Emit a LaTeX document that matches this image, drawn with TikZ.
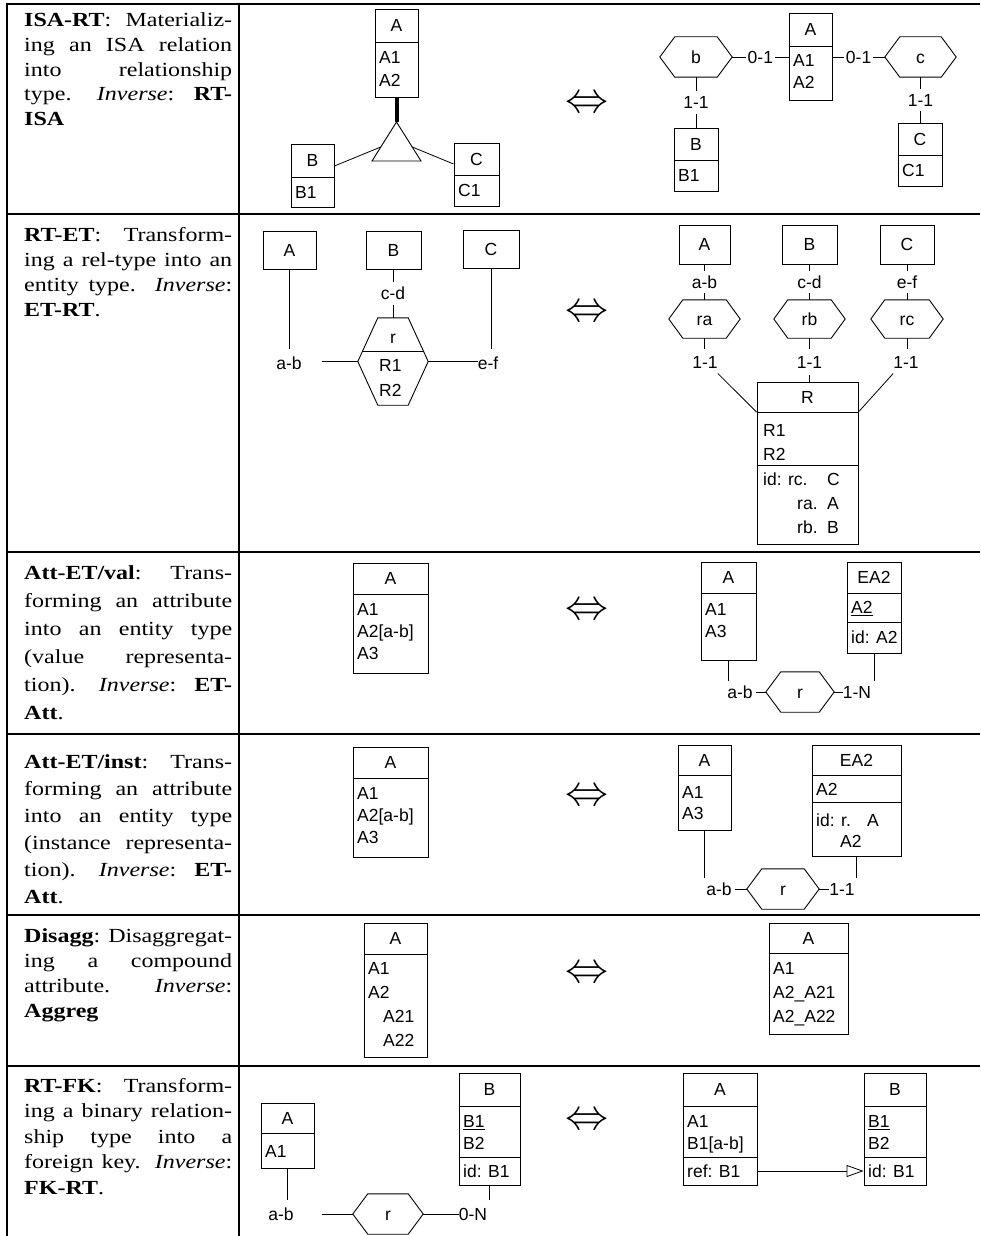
\documentclass[tikz,border=0pt]{standalone}
\usepackage{fontspec}
\usepackage{graphicx}
\setmainfont{Liberation Serif}[FakeStretch=1.2]
\newfontfamily\dbsans{Liberation Sans}
\usetikzlibrary{arrows.meta,fit,calc}
\newcommand\dbf{\dbsans\fontsize{17.5}{21}\selectfont}
\newlength\descw \setlength\descw{208pt}
\newcommand\jl[1]{\hbox to\descw{#1}}
\newcommand\lastl[1]{\hbox to\descw{#1\hfil}}
\newcommand\ebox[5]{\node[ent, fit={(#2,#3) (#4,#5)}] (#1) {};}
\newcommand\hdiv[2]{\draw[eline] (#1.west |- 0,#2) -- (#1.east |- 0,#2);}
\newcommand\hexn[7]{%
 \node[font=\dbf, inner sep=0pt, minimum width=#4pt, minimum height=#5pt, text height=12.6pt, text depth=0pt] (#1) at (#2,#3) {#7};
 \draw[eline] (#1.west) -- ([xshift=#6pt]#1.north west) -- ([xshift=-#6pt]#1.north east) -- (#1.east) -- ([xshift=-#6pt]#1.south east) -- ([xshift=#6pt]#1.south west) -- cycle;}
\tikzset{
 tbl/.style={line width=2.6pt},
 eline/.style={line width=0.9pt},
 ent/.style={draw, line width=0.9pt, inner sep=0pt},
 con/.style={line width=0.8pt},
 nm/.style={font=\dbf, anchor=base, inner sep=0pt, yshift=-6.3pt},
 attr/.style={font=\dbf, anchor=base west, inner sep=0pt, yshift=-6.3pt},
 lbl/.style={font=\dbf, fill=white, inner xsep=1.5pt, inner ysep=5pt, text height=12.6pt, text depth=0pt},
 lblp/.style={font=\dbf, inner sep=0pt, text height=12.6pt, text depth=0pt},
 eqv/.style={inner sep=0pt},
 desc/.style={anchor=base west, inner sep=0pt, font=\fontsize{20}{#1}\selectfont},
}
\begin{document}
\begin{tikzpicture}[x=1pt,y=-1pt]
\useasboundingbox (0,0) rectangle (980,1236);
% table
\draw[tbl] (5.7,4) -- (980,4);
\draw[tbl] (5.7,214) -- (980,214);
\draw[tbl] (5.7,552) -- (980,552);
\draw[tbl] (5.7,734) -- (980,734);
\draw[tbl] (5.7,915) -- (980,915);
\draw[tbl] (5.7,1066) -- (980,1066);
\draw[tbl] (7,2.7) -- (7,1236);
\draw[tbl] (239,2.7) -- (239,1236);
% descriptions
\node[desc=24.6pt] (d1) at (24,27) {\vtop{\jl{\textbf{ISA-RT}: Materializ-}\jl{ing an ISA relation}\jl{into relationship}\jl{type. \textit{Inverse}: \textbf{RT-}}\lastl{\textbf{ISA}}}};
\node[desc=25pt] (d2) at (24,241) {\vtop{\jl{\textbf{RT-ET}: Transform-}\jl{ing a rel-type into an}\jl{entity type. \textit{Inverse}:}\lastl{\textbf{ET-RT}.}}};
\node[desc=28pt] (d3) at (24,579) {\vtop{\jl{\textbf{Att-ET/val}: Trans-}\jl{forming an attribute}\jl{into an entity type}\jl{(value representa-}\jl{tion). \textit{Inverse}: \textbf{ET-}}\lastl{\textbf{Att}.}}};
\node[desc=27pt] (d4) at (24,768) {\vtop{\jl{\textbf{Att-ET/inst}: Trans-}\jl{forming an attribute}\jl{into an entity type}\jl{(instance representa-}\jl{tion). \textit{Inverse}: \textbf{ET-}}\lastl{\textbf{Att}.}}};
\node[desc=25pt] (d5) at (24,942) {\vtop{\jl{\textbf{Disagg}: Disaggregat-}\jl{ing a compound}\jl{attribute. \textit{Inverse}:}\lastl{\textbf{Aggreg}}}};
\node[desc=25.5pt] (d6) at (24,1092) {\vtop{\jl{\textbf{RT-FK}: Transform-}\jl{ing a binary relation-}\jl{ship type into a}\jl{foreign key. \textit{Inverse}:}\lastl{\textbf{FK-RT}.}}};
% equivalence arrows
\node[eqv] (e1) at (587,105) {\scalebox{4.3}{$\Leftrightarrow$}};
\node[eqv] (e2) at (587,314) {\scalebox{4.3}{$\Leftrightarrow$}};
\node[eqv] (e3) at (587,612) {\scalebox{4.3}{$\Leftrightarrow$}};
\node[eqv] (e4) at (587,798) {\scalebox{4.3}{$\Leftrightarrow$}};
\node[eqv] (e5) at (587,975) {\scalebox{4.3}{$\Leftrightarrow$}};
\node[eqv] (e6) at (587,1122) {\scalebox{4.3}{$\Leftrightarrow$}};
% ===== Row 1 left
\ebox{A1L}{375}{9}{418}{97} \hdiv{A1L}{42}
\node[nm] at (396.5,25.5) {A};
\node[attr] at (379,57) {A1};
\node[attr] at (379,80) {A2};
\coordinate (apex) at (396.5,122);
\coordinate (tbl) at (372,161);
\coordinate (tbr) at (421,161);
\draw[eline] (apex) -- (tbl) -- (tbr) -- cycle;
\draw[line width=4pt] (A1L.south) -- (apex);
\coordinate (tsl) at ($(apex)!0.64!(tbl)$);
\coordinate (tsr) at ($(apex)!0.64!(tbr)$);
\ebox{B1L}{291}{144}{334}{207} \hdiv{B1L}{177}
\node[nm] at (312.5,160.5) {B};
\node[attr] at (295,192) {B1};
\ebox{C1L}{454}{143}{499}{206} \hdiv{C1L}{175}
\node[nm] at (476.5,159) {C};
\node[attr] at (458,190) {C1};
\draw[con] (B1L.east |- 0,166) -- (tsl);
\draw[con] (tsr) -- (C1L.west |- 0,164);
% ===== Row 1 right
\hexn{hb}{696}{57}{72}{40}{15}{b}
\ebox{A1R}{789}{13}{832}{100} \hdiv{A1R}{46}
\node[nm] at (810.5,29.5) {A};
\node[attr] at (793,60) {A1};
\node[attr] at (793,82) {A2};
\hexn{hc}{920.5}{57}{71}{40}{15}{c}
\draw[con] (hb.east) -- node[lbl] {0-1} (A1R.west |- hb.east);
\draw[con] (A1R.east |- hc.west) -- node[lbl] {0-1} (hc.west);
\ebox{B1R}{674}{128}{718}{191} \hdiv{B1R}{160}
\node[nm] at (696,144) {B};
\node[attr] at (678,175) {B1};
\ebox{C1R}{898}{123}{942}{186} \hdiv{C1R}{155}
\node[nm] at (920,139) {C};
\node[attr] at (902,170) {C1};
\draw[con] (hb.south) -- node[lbl] {1-1} (B1R.north);
\draw[con] (hc.south) -- node[lbl] {1-1} (hc.south |- C1R.north);
% ===== Row 2 left
\ebox{A2L}{263}{231}{316}{269}
\node[nm] at (289.5,250) {A};
\ebox{B2L}{366}{231}{421}{269}
\node[nm] at (393.5,250) {B};
\ebox{C2L}{463}{230}{519}{268}
\node[nm] at (491,249) {C};
\hexn{r2}{393}{361.5}{70}{87}{20}{}
\draw[eline] ($(r2.west)!0.241!([xshift=20pt]r2.north west)$) -- ($(r2.east)!0.241!([xshift=-20pt]r2.north east)$);
\node[nm] at (393,337) {r};
\node[attr] at (379,365) {R1};
\node[attr] at (379,390) {R2};
\draw[con] (r2.north) -- node[lbl] {c-d} (r2.north |- B2L.south);
\node[lblp] (ab2) at (289,363) {a-b};
\draw[con] (A2L.south) -- ([yshift=8pt]ab2.north -| A2L.south);
\draw[con] (r2.west) -- ([xshift=20pt]ab2.east |- r2.west);
\node[lblp] (ef2) at (488,363) {e-f};
\draw[con] (C2L.south) -- ([yshift=8pt]ef2.north -| C2L.south);
\draw[con] (r2.east) -- (ef2.west |- r2.east);
% ===== Row 2 right
\ebox{A2R}{679}{225}{730}{264}
\node[nm] at (704.5,244.5) {A};
\ebox{B2R}{782}{225}{837}{264}
\node[nm] at (809.5,244.5) {B};
\ebox{C2R}{880}{225}{934}{264}
\node[nm] at (907,244.5) {C};
\hexn{ra}{704.5}{319}{71}{38}{14}{ra}
\hexn{rb}{809.5}{319}{71}{38}{14}{rb}
\hexn{rc}{907}{319}{72}{38}{14}{rc}
\draw[con] (A2R.south) -- node[lbl] {a-b} (ra.north);
\draw[con] (B2R.south) -- node[lbl] {c-d} (rb.north);
\draw[con] (C2R.south) -- node[lbl] {e-f} (rc.north);
\ebox{R}{757}{382}{858}{544} \hdiv{R}{412} \hdiv{R}{465}
\node[nm] at (807.5,397) {R};
\node[attr] at (763,430) {R1};
\node[attr] at (763,454) {R2};
\node[attr] at (763,479) {id: rc.};
\node[attr] at (827,479) {C};
\node[attr] at (797,503) {ra.};
\node[attr] at (827,503) {A};
\node[attr] at (797,527) {rb.};
\node[attr] at (827,527) {B};
\node[lblp] (ra1) at (705,362) {1-1};
\node[lblp] (rb1) at (809.5,362) {1-1};
\node[lblp] (rc1) at (906,362) {1-1};
\draw[con] (ra.south) -- ([yshift=7pt]ra1.north -| ra.south);
\draw[con] (rb.south) -- ([yshift=7pt]rb1.north -| rb.south);
\draw[con] (rc.south) -- ([yshift=7pt]rc1.north -| rc.south);
\draw[con] ([yshift=-5pt]ra1.south east) -- (R.west |- 0,412);
\draw[con] ([yshift=-6pt]rb1.south) -- (rb1.south |- R.north);
\draw[con] ([yshift=-5pt]rc1.south west) -- (R.east |- 0,412);
% ===== Row 3 left
\ebox{A3L}{353}{563}{428}{673} \hdiv{A3L}{594}
\node[nm] at (390.5,578.5) {A};
\node[attr] at (357,609) {A1};
\node[attr] at (357,631) {A2[a-b]};
\node[attr] at (357,653) {A3};
% ===== Row 3 right
\ebox{A3R}{701}{562}{756}{660} \hdiv{A3R}{593}
\node[nm] at (728.5,577.5) {A};
\node[attr] at (705,609) {A1};
\node[attr] at (705,631) {A3};
\ebox{E3}{847}{562}{901}{653} \hdiv{E3}{593} \hdiv{E3}{622}
\node[nm] at (874,577.5) {EA2};
\node[attr] at (851,607.5) {\underline{A2}};
\node[attr] at (851,637.5) {id: A2};
\hexn{r3}{800}{692}{68}{40}{15}{r}
\node[lblp] (ab3) at (740,692) {a-b};
\node[lblp] (on3) at (857,692) {1-N};
\draw[con] (A3R.south) -- ([yshift=5pt]ab3.north -| A3R.south);
\draw[con] ([xshift=3pt]ab3.east) -- (r3.west);
\draw[con] (r3.east) -- (on3.west);
\draw[con] (E3.south) -- ([yshift=5pt]on3.north -| E3.south);
% ===== Row 4 left
\ebox{A4L}{353}{747}{428}{857} \hdiv{A4L}{778}
\node[nm] at (390.5,762.5) {A};
\node[attr] at (357,793) {A1};
\node[attr] at (357,815) {A2[a-b]};
\node[attr] at (357,837) {A3};
% ===== Row 4 right
\ebox{A4R}{678}{745}{731}{830} \hdiv{A4R}{775}
\node[nm] at (704.5,760) {A};
\node[attr] at (682,792) {A1};
\node[attr] at (682,813) {A3};
\ebox{E4}{812}{745}{901}{856} \hdiv{E4}{775} \hdiv{E4}{802}
\node[nm] at (856.5,760) {EA2};
\node[attr] at (816,789) {A2};
\node[attr] at (816,820) {id: r.};
\node[attr] at (867,820) {A};
\node[attr] at (840,841) {A2};
\hexn{r4}{783}{889}{72}{40}{15}{r}
\node[lblp] (ab4) at (719,889) {a-b};
\node[lblp] (on4) at (842,889) {1-1};
\draw[con] (A4R.south) -- ([yshift=5pt]ab4.north -| A4R.south);
\draw[con] ([xshift=3pt]ab4.east) -- (r4.west);
\draw[con] (r4.east) -- (on4.west);
\draw[con] (E4.south) -- ([yshift=5pt]on4.north -| E4.south);
% ===== Row 5
\ebox{A5L}{364}{923}{427}{1057} \hdiv{A5L}{954}
\node[nm] at (395.5,938.5) {A};
\node[attr] at (368,968) {A1};
\node[attr] at (368,992) {A2};
\node[attr] at (383,1016) {A21};
\node[attr] at (383,1040) {A22};
\ebox{A5R}{769}{923}{848}{1034} \hdiv{A5R}{953}
\node[nm] at (808.5,938) {A};
\node[attr] at (773,968) {A1};
\node[attr] at (773,992) {A2\_A21};
\node[attr] at (773,1016) {A2\_A22};
% ===== Row 6 left
\ebox{A6L}{261}{1103}{314}{1168} \hdiv{A6L}{1133}
\node[nm] at (287.5,1118) {A};
\node[attr] at (265,1151) {A1};
\ebox{B6L}{459}{1073}{520}{1185} \hdiv{B6L}{1106} \hdiv{B6L}{1157}
\node[nm] at (489.5,1089.5) {B};
\node[attr] at (463,1121) {\underline{B1}};
\node[attr] at (463,1143) {B2};
\node[attr] at (463,1171) {id: B1};
\hexn{r6}{388}{1214}{70}{40}{15}{r}
\node[lblp] (ab6) at (281,1214) {a-b};
\node[lblp] (zn6) at (473,1214) {0-N};
\draw[con] (A6L.south) -- ([yshift=8pt]ab6.north -| A6L.south);
\draw[con] ([xshift=28pt]ab6.east) -- (r6.west);
\draw[con] (r6.east) -- (zn6.west);
\draw[con] (B6L.south) -- ([yshift=8pt]zn6.north -| B6L.south);
% ===== Row 6 right
\ebox{A6R}{683}{1073}{757}{1185} \hdiv{A6R}{1106} \hdiv{A6R}{1157}
\node[nm] at (720,1089.5) {A};
\node[attr] at (687,1121) {A1};
\node[attr] at (687,1143) {B1[a-b]};
\node[attr] at (687,1171) {ref: B1};
\ebox{B6R}{864}{1073}{926}{1185} \hdiv{B6R}{1106} \hdiv{B6R}{1157}
\node[nm] at (895,1089.5) {B};
\node[attr] at (868,1121) {\underline{B1}};
\node[attr] at (868,1143) {B2};
\node[attr] at (868,1171) {id: B1};
\draw[con, -{Triangle[open, length=17pt, width=12pt]}] (A6R.east |- 0,1171) -- (B6R.west |- 0,1171);
\end{tikzpicture}
\end{document}
